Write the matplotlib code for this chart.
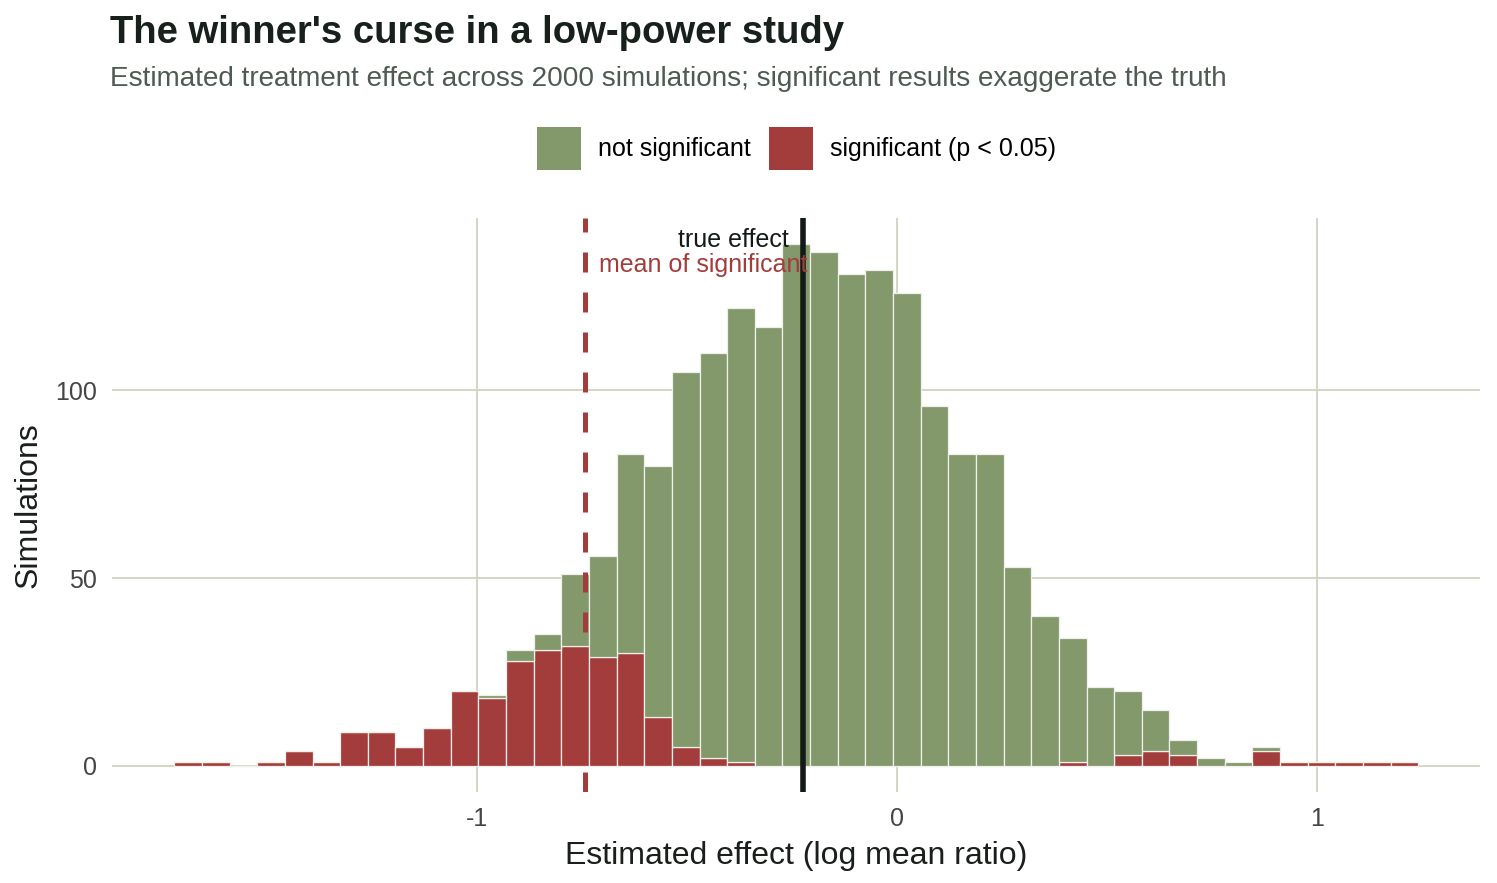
import numpy as np
import matplotlib
matplotlib.use('Agg')
import matplotlib.pyplot as plt
from matplotlib.patches import Patch

# histogram counts per bin (45 bins)
bin_start = -1.7197
bin_width = 0.0658
sig_counts = [1, 1, 0, 1, 4, 1, 9, 9, 5, 10, 20, 18, 28, 31, 32, 29, 30, 13, 5, 2, 1,
              0, 0, 0, 0, 0, 0, 0, 0, 0, 0, 0, 1, 0, 3, 4, 3, 0, 0, 4, 1, 1, 1, 1, 1]
ns_counts = [0, 0, 0, 0, 0, 0, 0, 0, 0, 0, 0, 1, 3, 4, 19, 27, 53, 67, 100, 108, 121,
             117, 139, 137, 131, 132, 126, 96, 83, 83, 53, 40, 33, 21, 17, 11, 4, 2, 1, 1, 0, 0, 0, 0, 0]
true_effect = np.log(0.8)
mean_sig = -0.741

green = '#83996c'
red = '#a33d3c'
grid_c = '#d5d5c5'

plt.rcParams['font.family'] = ['Liberation Sans', 'DejaVu Sans']

fig = plt.figure(figsize=(14.97, 8.83), dpi=100)
ax = fig.add_axes([0.0748, 0.1031, 0.9138, 0.65])

sig = np.array(sig_counts)
ns = np.array(ns_counts)
lefts = bin_start + bin_width * np.arange(len(sig))

ax.bar(lefts, sig, width=bin_width, align='edge', color=red,
       edgecolor='#f3eeee', linewidth=0.9, zorder=2)
ax.bar(lefts, ns, bottom=sig, width=bin_width, align='edge', color=green,
       edgecolor='#eef0ea', linewidth=0.9, zorder=2)

ax.axvline(mean_sig, color=red, lw=3.6, dashes=(4, 4), zorder=3)
ax.axvline(true_effect, color='#141b16', lw=4, zorder=3)

ax.text(true_effect - 0.033, 140.0, 'true effect', ha='right', va='center',
        fontsize=18, color='#141b16', zorder=4)
ax.text(mean_sig + 0.033, 133.3, 'mean of significant', ha='left', va='center',
        fontsize=18, color=red, zorder=4)

ax.set_xlim(-1.868, 1.388)
ax.set_ylim(-6.95, 145.95)
ax.set_xticks([-1, 0, 1])
ax.set_xticklabels(['-1', '0', '1'])
ax.set_yticks([0, 50, 100])
ax.grid(True, color=grid_c, lw=1.4, zorder=0)
ax.set_axisbelow(True)
for s in ax.spines.values():
    s.set_visible(False)
ax.tick_params(length=0, labelsize=18, labelcolor='#454545')
ax.tick_params(axis='y', pad=11)
ax.tick_params(axis='x', pad=11)
ax.set_xlabel('Estimated effect (log mean ratio)', fontsize=23, color='#1a1f1b', labelpad=7)
ax.set_ylabel('Simulations', fontsize=23, color='#1a1f1b', labelpad=8)

fig.text(0.0735, 0.9625, "The winner's curse in a low-power study", fontsize=27.5,
         fontweight='bold', color='#18201b', ha='left', va='center')
fig.text(0.0735, 0.910, 'Estimated treatment effect across 2000 simulations; '
         'significant results exaggerate the truth', fontsize=20.1,
         color='#4f5b52', ha='left', va='center')

handles = [Patch(facecolor=green, edgecolor='none', label='not significant'),
           Patch(facecolor=red, edgecolor='none', label='significant (p < 0.05)')]
fig.legend(handles=handles, loc='center', bbox_to_anchor=(0.532, 0.832), ncol=2,
           frameon=False, fontsize=18, handlelength=1.76, handleheight=2.28,
           handletextpad=0.68, columnspacing=0.72)

fig.savefig('out.png', dpi=100, facecolor='white')
